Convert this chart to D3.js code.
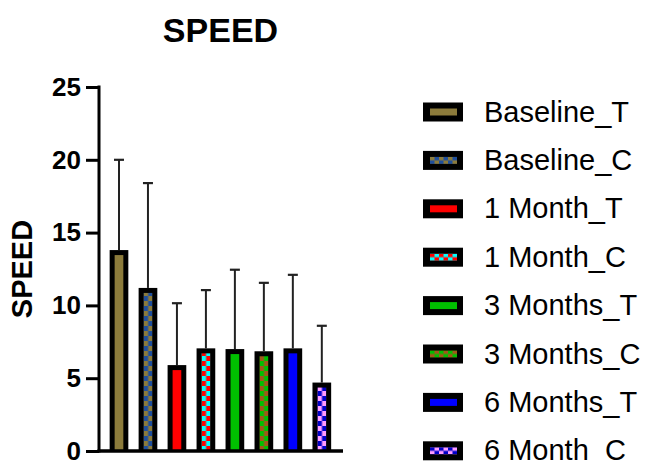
<!DOCTYPE html>
<html>
<head>
<meta charset="utf-8">
<script src="https://cdn.jsdelivr.net/npm/d3@7"></script>
<style>
  html, body { margin: 0; padding: 0; background: #fff; }
  svg { display: block; font-family: "Liberation Sans", Arial, Helvetica, sans-serif; }
</style>
</head>
<body>
<svg id="chart" width="649" height="464"></svg>
<script>
// ---- data ----
const categories = ["Baseline_T", "Baseline_C", "1 Month_T", "1 Month_C", "3 Months_T", "3 Months_C", "6 Months_T", "6 Month_C"];
const means = [13.8, 11.2, 5.9, 7.05, 7.0, 6.85, 7.05, 4.7];
const errors = [6.2, 7.2, 4.25, 4.0, 5.45, 4.7, 5.05, 3.9];
const primaryColors = ["#8c7b3b", "#8c7b3b", "#ff0000", "#ff0000", "#00c000", "#00c000", "#0000ff", "#0000c8"];
const secondaryColors = [null, "#1f4f9c", null, "#00ffff", null, "#a0581a", null, "#ff9cff"];
const yTicks = [0, 5, 10, 15, 20, 25];
const title = "SPEED";
const yLabel = "SPEED";

// ---- layout ----
const svg = d3.select("#chart");
const y = d3.scaleLinear().domain([0, 25]).range([451, 87]);
const x = d3.scaleBand().domain(categories).range([104.5, 336.3]).paddingInner(0.355).paddingOuter(0.1775);
const font = '"Liberation Sans", Arial, Helvetica, sans-serif';

const defs = svg.append("defs");
function makePattern(id, c1, c2, cw, ch, ox, oy) {
  const p = defs.append("pattern").attr("id", id)
    .attr("patternUnits", "userSpaceOnUse")
    .attr("x", ox).attr("y", oy)
    .attr("width", cw * 2).attr("height", ch * 2);
  p.append("rect").attr("width", cw * 2).attr("height", ch * 2).attr("fill", c1);
  p.append("rect").attr("x", cw).attr("y", 0).attr("width", cw).attr("height", ch).attr("fill", c2);
  p.append("rect").attr("x", 0).attr("y", ch).attr("width", cw).attr("height", ch).attr("fill", c2);
}

const border = 5;
const bars = svg.append("g");
categories.forEach((c, i) => {
  const bx = x(c), bw = x.bandwidth();
  const top = y(means[i]), bottom = y(0);
  let fill = primaryColors[i];
  if (secondaryColors[i]) {
    makePattern("bp" + i, primaryColors[i], secondaryColors[i], 4.5, 5, bx + border, bottom);
    fill = "url(#bp" + i + ")";
  }
  // error bar (upper)
  const cx = bx + bw / 2;
  const eTop = y(means[i] + errors[i]);
  bars.append("line").attr("x1", cx).attr("x2", cx).attr("y1", top).attr("y2", eTop)
    .attr("stroke", "#222").attr("stroke-width", 2);
  bars.append("line").attr("x1", cx - 5).attr("x2", cx + 5).attr("y1", eTop).attr("y2", eTop)
    .attr("stroke", "#222").attr("stroke-width", 2.2);
  bars.append("rect").attr("x", bx).attr("y", top).attr("width", bw).attr("height", bottom - top)
    .attr("fill", "#000");
  bars.append("rect").attr("x", bx + border).attr("y", top + border)
    .attr("width", bw - 2 * border).attr("height", Math.max(0, bottom - top - border))
    .attr("fill", fill);
});

// y axis
const yAxis = d3.axisLeft(y).tickValues(yTicks).tickSize(13).tickSizeOuter(0).tickPadding(5);
const gy = svg.append("g").attr("transform", "translate(99,0)").call(yAxis);
gy.select(".domain").attr("stroke", "#000").attr("stroke-width", 3).attr("d", "M0,85.5V452.5");
gy.selectAll(".tick line").attr("stroke", "#000").attr("stroke-width", 3);
gy.selectAll(".tick text").attr("fill", "#000").attr("font-size", 26).attr("font-weight", "bold")
  .attr("font-family", font);

// x axis line
svg.append("line").attr("x1", 97.5).attr("x2", 343).attr("y1", y(0)).attr("y2", y(0))
  .attr("stroke", "#000").attr("stroke-width", 3.5);

// title
svg.append("text").attr("x", 220.5).attr("y", 41.5).attr("text-anchor", "middle")
  .attr("font-size", 34).attr("font-weight", "bold").attr("font-family", font).text(title);

// y label
svg.append("text").attr("transform", "translate(32,269) rotate(-90)").attr("text-anchor", "middle")
  .attr("font-size", 29).attr("font-weight", "bold").attr("font-family", font).text(yLabel);

// legend
const legend = svg.append("g");
categories.forEach((c, i) => {
  const cy = 112 + i * 48.4;
  let fill = primaryColors[i];
  if (secondaryColors[i]) {
    makePattern("lp" + i, primaryColors[i], secondaryColors[i], 4.5, 3.5, 430, cy - 3.5);
    fill = "url(#lp" + i + ")";
  }
  legend.append("rect").attr("x", 423).attr("y", cy - 9.5).attr("width", 40).attr("height", 19).attr("fill", "#000");
  legend.append("rect").attr("x", 430).attr("y", cy - 3.5).attr("width", 27).attr("height", 7).attr("fill", fill);
  legend.append("text").attr("x", 484).attr("y", cy + 9.5).attr("font-size", 29).attr("font-family", font)
    .attr("fill", "#000").text(c);
});
</script>
</body>
</html>
